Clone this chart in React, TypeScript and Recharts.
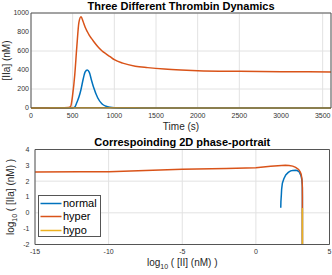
import { LineChart, Line, XAxis, YAxis, CartesianGrid, Legend } from 'recharts';

// top panel: thrombin [IIa] over time
const timeS = [0, 200, 300, 400, 450, 475, 500, 525, 550, 575, 600, 625, 650, 675, 700, 725, 750, 800, 850, 900, 950, 1000, 1100, 1250, 1400, 1600, 1800, 2000, 2500, 3000, 3600];
const normalIIa = [0, 0, 0, 0, 0, 0, 0, 10, 58, 115, 195, 300, 380, 400, 375, 295, 220, 108, 45, 18, 7, 3, 1, 0, 0, 0, 0, 0, 0, 0, 0];
const hyperIIa = [0, 1, 2, 3, 5, 15, 140, 348, 647, 902, 960, 911, 850, 805, 765, 733, 703, 648, 603, 570, 540, 509, 472, 440, 425, 410, 400, 393, 386, 382, 380];
const hypoIIa = [0, 1, 2, 2, 2, 2, 2, 2, 2, 2, 2, 2, 2, 2, 2, 2, 2, 2, 2, 2, 2, 2, 2, 2, 1, 1, 1, 1, 1, 1, 1];

const timeTicks = [0, 500, 1000, 1500, 2000, 2500, 3000, 3500];
const iiaTicks = [0, 200, 400, 600, 800, 1000];

// bottom panel: log10 [II] vs log10 [IIa]
const normalLogII = [3.16, 3.16, 3.16, 3.15, 3.12, 3.08, 3.04, 3.0, 2.93, 2.8, 2.7, 2.5, 2.36, 2.2, 2.03, 1.9, 1.8, 1.75, 1.73, 1.7, 1.69];
const normalLogIIa = [-2.5, 0, 1.0, 1.77, 2.1, 2.29, 2.4, 2.48, 2.6, 2.67, 2.69, 2.68, 2.65, 2.55, 2.4, 2.15, 1.87, 1.5, 1.14, 0.7, 0.32];
const hyperLogII = [3.16, 3.16, 3.16, 3.14, 3.12, 3.07, 3.0, 2.9, 2.7, 2.5, 2.25, 2.0, 1.5, 1.0, 0, -2, -5, -8, -10, -12, -15];
const hyperLogIIa = [-2.5, 0.3, 1.58, 2.0, 2.2, 2.45, 2.6, 2.74, 2.87, 2.95, 2.99, 3.0, 2.98, 2.94, 2.85, 2.8, 2.76, 2.66, 2.6, 2.59, 2.58];
const hypoLogII = [3.16, 3.16];
const hypoLogIIa = [-2.5, 0.3];

const logIITicks = [-15, -10, -5, 0, 5];
const logIIaTicks = [-2, -1, 0, 1, 2, 3, 4];

const seriesNames = ['normal', 'hyper', 'hypo'];
const seriesColors = ['#0072BD', '#D95319', '#EDB120'];

const FONT = '"Liberation Sans", Arial, Helvetica, sans-serif';
const AXIS = '#555';
const GRID = '#e2e2e2';
const tickStyle = { fontSize: 7, fill: '#333', fontFamily: FONT };

const timeRows = timeS.map((t, i) => ({ t, normal: normalIIa[i], hyper: hyperIIa[i], hypo: hypoIIa[i] }));
const toPoints = (xs: number[], ys: number[]) => xs.map((x, i) => ({ x, y: ys[i] }));
const phaseSeries = [
  toPoints(normalLogII, normalLogIIa),
  toPoints(hyperLogII, hyperLogIIa),
  toPoints(hypoLogII, hypoLogIIa),
];

const titleLabel = (text: string) => (props: any) => {
  const { x, y, width } = props.viewBox;
  return (
    <text x={x + width / 2} y={y - 2.5} textAnchor="middle" fontSize={11} fontWeight="bold" fontFamily={FONT} fill="#000">
      {text}
    </text>
  );
};

const logText = (text: string, sub?: string) =>
  sub ? (
    <>
      <tspan>{sub}</tspan>
      <tspan fontSize={7} dy={3}>10</tspan>
      <tspan dy={-3}>{text}</tspan>
    </>
  ) : (
    text
  );

const xLabel = (text: string, dy: number, sub?: string) => (props: any) => {
  const { x, y, width } = props.viewBox;
  return (
    <text x={x + width / 2} y={y + dy} textAnchor="middle" fontSize={10} fontFamily={FONT} fill="#262626">
      {logText(text, sub)}
    </text>
  );
};

const yLabel = (text: string, bx: number, sub?: string) => (props: any) => {
  const { y, height } = props.viewBox;
  const cy = y + height / 2;
  return (
    <text x={bx} y={cy} transform={`rotate(-90, ${bx}, ${cy})`} textAnchor="middle" fontSize={10} fontFamily={FONT} fill="#262626">
      {logText(text, sub)}
    </text>
  );
};

function PhaseLegend({ payload }: any) {
  const items = seriesNames
    .map((n) => (payload || []).find((p: any) => p.value === n))
    .filter(Boolean);
  return (
    <div style={{ width: 63, height: 42, boxSizing: 'border-box', background: '#fff', border: `1px solid ${AXIS}`, paddingTop: 0.5 }}>
      {items.map((p: any) => (
        <div key={p.value} style={{ display: 'flex', alignItems: 'center', height: 13.5 }}>
          <svg width={24} height={13} style={{ display: 'block' }}>
            <line x1={1.5} x2={22.5} y1={6.5} y2={6.5} stroke={p.color} strokeWidth={1.5} />
          </svg>
          <span style={{ fontSize: 11, fontFamily: FONT, color: '#000', lineHeight: '13px' }}>{p.value}</span>
        </div>
      ))}
    </div>
  );
}

export default function App() {
  return (
    <div style={{ position: 'absolute', left: 0, top: 0, width: 332, height: 275, background: '#fff', fontFamily: FONT }}>
      <div style={{ position: 'absolute', left: 0, top: 0 }}>
        <LineChart width={332} height={135} data={timeRows} margin={{ top: 12, right: 0, bottom: 0, left: 0 }}>
          <CartesianGrid stroke={GRID} />
          <XAxis
            dataKey="t"
            type="number"
            domain={[0, 3600]}
            ticks={timeTicks}
            tick={tickStyle}
            tickLine={false}
            tickSize={3}
            tickMargin={2}
            height={27}
            stroke={AXIS}
            label={xLabel('Time (s)', 22)}
          />
          <XAxis xAxisId="top" orientation="top" type="number" domain={[0, 3600]} ticks={timeTicks} height={1} tick={false} tickLine={false} stroke={AXIS} label={titleLabel('Three Different Thrombin Dynamics')} />
          <YAxis
            type="number"
            domain={[0, 1000]}
            ticks={iiaTicks}
            tick={tickStyle}
            tickLine={false}
            tickSize={2}
            tickMargin={0}
            width={31}
            stroke={AXIS}
            label={yLabel('[IIa] (nM)', 10)}
          />
          <YAxis yAxisId="right" orientation="right" type="number" domain={[0, 1000]} ticks={iiaTicks} width={1} tick={false} tickLine={false} stroke={AXIS} />
          {seriesNames.map((name, i) => (
            <Line key={name} type="monotone" dataKey={name} name={name} stroke={seriesColors[i]} strokeWidth={1.5} dot={false} isAnimationActive={false} />
          ))}
        </LineChart>
      </div>
      <div style={{ position: 'absolute', left: 0, top: 135 }}>
        <LineChart width={332} height={140} margin={{ top: 13.5, right: 1.5, bottom: 0, left: 0 }}>
          <CartesianGrid stroke={GRID} />
          <XAxis
            dataKey="x"
            type="number"
            domain={[-15, 5]}
            allowDataOverflow
            ticks={logIITicks}
            tick={tickStyle}
            tickLine={false}
            tickSize={3}
            tickMargin={2}
            height={30.5}
            stroke={AXIS}
            label={xLabel(' ( [II] (nM) )', 21, 'log')}
          />
          <XAxis xAxisId="top" orientation="top" type="number" domain={[-15, 5]} ticks={logIITicks} height={1} tick={false} tickLine={false} stroke={AXIS} label={titleLabel('Correspoinding 2D phase-portrait')} />
          <YAxis
            dataKey="y"
            type="number"
            domain={[-2, 4]}
            allowDataOverflow
            ticks={logIIaTicks}
            tick={tickStyle}
            tickLine={false}
            tickSize={3}
            tickMargin={2.5}
            width={35}
            stroke={AXIS}
            label={yLabel(' ( [IIa] (nM) )', 14, 'log')}
          />
          <YAxis yAxisId="right" orientation="right" type="number" domain={[-2, 4]} ticks={logIIaTicks} width={1} tick={false} tickLine={false} stroke={AXIS} />
          {seriesNames.map((name, i) => (
            <Line key={name} data={phaseSeries[i]} type="linear" dataKey="y" name={name} stroke={seriesColors[i]} strokeWidth={1.5} dot={false} isAnimationActive={false} />
          ))}
          <Legend
            layout="vertical"
            align="center"
            verticalAlign="middle"
            content={PhaseLegend}
            wrapperStyle={{ left: 38, top: 60, width: 63, height: 42 }}
          />
        </LineChart>
      </div>
    </div>
  );
}
